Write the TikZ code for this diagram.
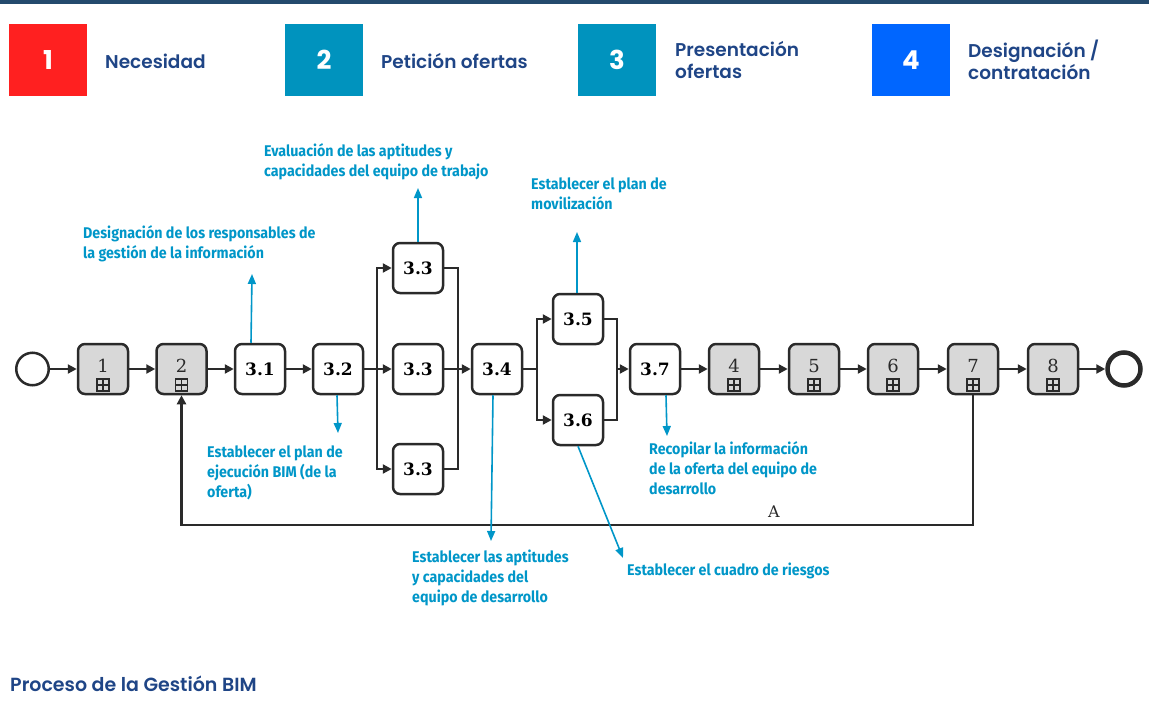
\documentclass[tikz,border=0pt]{standalone}
\usepackage{fontspec}
\usetikzlibrary{arrows.meta}

\newfontfamily\headfont{Poppins SemiBold}
\newfontfamily\headnum{Poppins}
\newfontfamily\notefont{Fira Sans}[FakeStretch=0.92]
\newfontfamily\serifnum{DejaVu Serif}

\definecolor{navybar}{HTML}{244A6D}
\definecolor{headblue}{HTML}{1F4586}
\definecolor{stepred}{HTML}{FF2020}
\definecolor{stepteal}{HTML}{0093BE}
\definecolor{stepblue}{HTML}{0066FF}
\definecolor{noteblue}{HTML}{0096C8}
\definecolor{ink}{HTML}{2A2A2A}
\definecolor{subgray}{HTML}{D8D8D8}

\tikzset{
  headbox/.style={minimum width=78, minimum height=72, inner sep=0, text=white,
    font=\headnum\bfseries\fontsize{26}{26}\selectfont},
  headtext/.style={anchor=west, inner sep=0, text=headblue, align=left,
    font=\headfont\fontsize{18.5}{21.5}\selectfont},
  taskbox/.style={draw=ink, line width=2.5, rounded corners=7, minimum size=50,
    inner sep=0, fill=white, font=\serifnum\bfseries\fontsize{17}{17}\selectfont},
  subbox/.style={taskbox, fill=subgray},
  subnum/.style={inner sep=0, anchor=base, text=ink, font=\serifnum\fontsize{18}{18}\selectfont},
  marker/.style={draw=ink, line width=1.1},
  event/.style={circle, draw=ink, line width=2.5, minimum size=32.5, inner sep=0, fill=white},
  endevent/.style={circle, draw=ink, line width=4.5, minimum size=33, inner sep=0, fill=white},
  line/.style={draw=ink, line width=2.5},
  flow/.style={line, -{Triangle[length=9,width=9]}},
  note/.style={draw=noteblue, line width=1.6, -{Triangle[length=10,width=8]}},
  notetext/.style={anchor=north west, inner sep=0, text=noteblue, align=left,
    font=\notefont\bfseries\fontsize{15.5}{20}\selectfont},
}

% sub-process: grey box, number and the collapsed-marker square
\newcommand\subproc[3]{%
  \node[subbox] (#1) at (#2) {};
  \node[subnum] (#1n) at ([yshift=-3]#1.center) {#3};
  \draw[marker] ([xshift=-6,yshift=-10]#1.center) rectangle ([xshift=6,yshift=-22]#1.center);
  \draw[marker] ([yshift=-10]#1.center) -- ([yshift=-22]#1.center);
  \draw[marker] ([xshift=-6,yshift=-16]#1.center) -- ([xshift=6,yshift=-16]#1.center);
}

\begin{document}
\begin{tikzpicture}[x=1pt, y=-1pt]
\useasboundingbox (0,0) rectangle (1149,715);
\fill[navybar] (0,0) rectangle (1149,3.5);

% phase header
\node[headbox, fill=stepred]  (h1) at (48,60)  {1};
\node[headbox, fill=stepteal] (h2) at (324,60) {2};
\node[headbox, fill=stepteal] (h3) at (617,60) {3};
\node[headbox, fill=stepblue] (h4) at (911,60) {4};
\node[headtext] (h1t) at (105,61) {Necesidad};
\node[headtext] (h2t) at (381,61) {Petición ofertas};
\node[headtext] (h3t) at (675,60) {Presentación\\ofertas};
\node[headtext] (h4t) at (968,60) {Designación /\\contratación};

% process nodes
\node[event] (start) at (32.5,369) {};
\subproc{p1}{103,369}{1}
\subproc{p2}{181.5,369}{2}
\node[taskbox] (t31) at (260,369) {3.1};
\node[taskbox] (t32) at (338,369) {3.2};
\node[taskbox] (t33a) at (418,268) {3.3};
\node[taskbox] (t33b) at (418,369) {3.3};
\node[taskbox] (t33c) at (418,469) {3.3};
\node[taskbox] (t34) at (497,369) {3.4};
\node[taskbox] (t35) at (578,319) {3.5};
\node[taskbox] (t36) at (578,420) {3.6};
\node[taskbox] (t37) at (655,369) {3.7};
\subproc{p4}{734,369}{4}
\subproc{p5}{814,369}{5}
\subproc{p6}{893,369}{6}
\subproc{p7}{973,369}{7}
\subproc{p8}{1053,369}{8}
\node[endevent] (end) at (1124,369) {};

% gateway points
\coordinate (s1) at (377,369);
\coordinate (j1) at (458,369);
\coordinate (s2) at (537,369);
\coordinate (j2) at (617,369);
\coordinate (fb) at (973,525);

% sequence flow
\draw[flow] (start) -- (p1);
\draw[flow] (p1) -- (p2);
\draw[flow] (p2) -- (t31);
\draw[flow] (t31) -- (t32);
\draw[flow] (t32) -- (t33b);
\draw[flow] (s1) |- (t33a);
\draw[flow] (s1) |- (t33c);
\draw[line] (t33a) -| (j1);
\draw[line] (t33c) -| (j1);
\draw[flow] (t33b) -- (t34);
\draw[line] (t34) -- (s2);
\draw[flow] (s2) |- (t35);
\draw[flow] (s2) |- (t36);
\draw[line] (t35) -| (j2);
\draw[line] (t36) -| (j2);
\draw[flow] (j2) -- (t37);
\draw[flow] (t37) -- (p4);
\draw[flow] (p4) -- (p5);
\draw[flow] (p5) -- (p6);
\draw[flow] (p6) -- (p7);
\draw[flow] (p7) -- (p8);
\draw[flow] (p8) -- (end);
\draw[flow] (p7) -- (fb) -| (p2);
\node[inner sep=0, anchor=base, text=ink, font=\serifnum\fontsize{16}{16}\selectfont] (lA) at (774,517) {A};

% annotations
\coordinate (a31) at (252,274);
\coordinate (a32) at (338,433);
\coordinate (a33) at (418,188);
\coordinate (a34) at (491,541);
\coordinate (a35) at (577,232);
\coordinate (a36) at (623,558);
\coordinate (a37) at (667,436);
\draw[note] ([xshift=-9]t31.north) -- (a31);
\draw[note] ([xshift=-1]t32.south) -- (a32);
\draw[note] (t33a.north) -- (a33);
\draw[note] ([xshift=-4]t34.south) -- (a34);
\draw[note] ([xshift=-1]t35.north) -- (a35);
\draw[note] (t36.south) -- (a36);
\draw[note] ([xshift=11]t37.south) -- (a37);

\node[notetext] (n31) at (83,225) {Designación de los responsables de\\la gestión de la información};
\node[notetext] (n32) at (207,446) {Establecer el plan de\\ejecución BIM (de la\\oferta)};
\node[notetext] (n33) at (264,143) {Evaluación de las aptitudes y\\capacidades del equipo de trabajo};
\node[notetext] (n34) at (412,550) {Establecer las aptitudes\\y capacidades del\\equipo de desarrollo};
\node[notetext] (n35) at (531,178) {Establecer el plan de\\movilización};
\node[notetext] (n36) at (627,563) {Establecer el cuadro de riesgos};
\node[notetext] (n37) at (649,441) {Recopilar la información\\de la oferta del equipo de\\desarrollo};

% caption
\node[inner sep=0, anchor=base west, text=headblue, font=\headfont\fontsize{19}{21}\selectfont] (cap) at (10,691) {Proceso de la Gestión BIM};
\end{tikzpicture}
\end{document}
